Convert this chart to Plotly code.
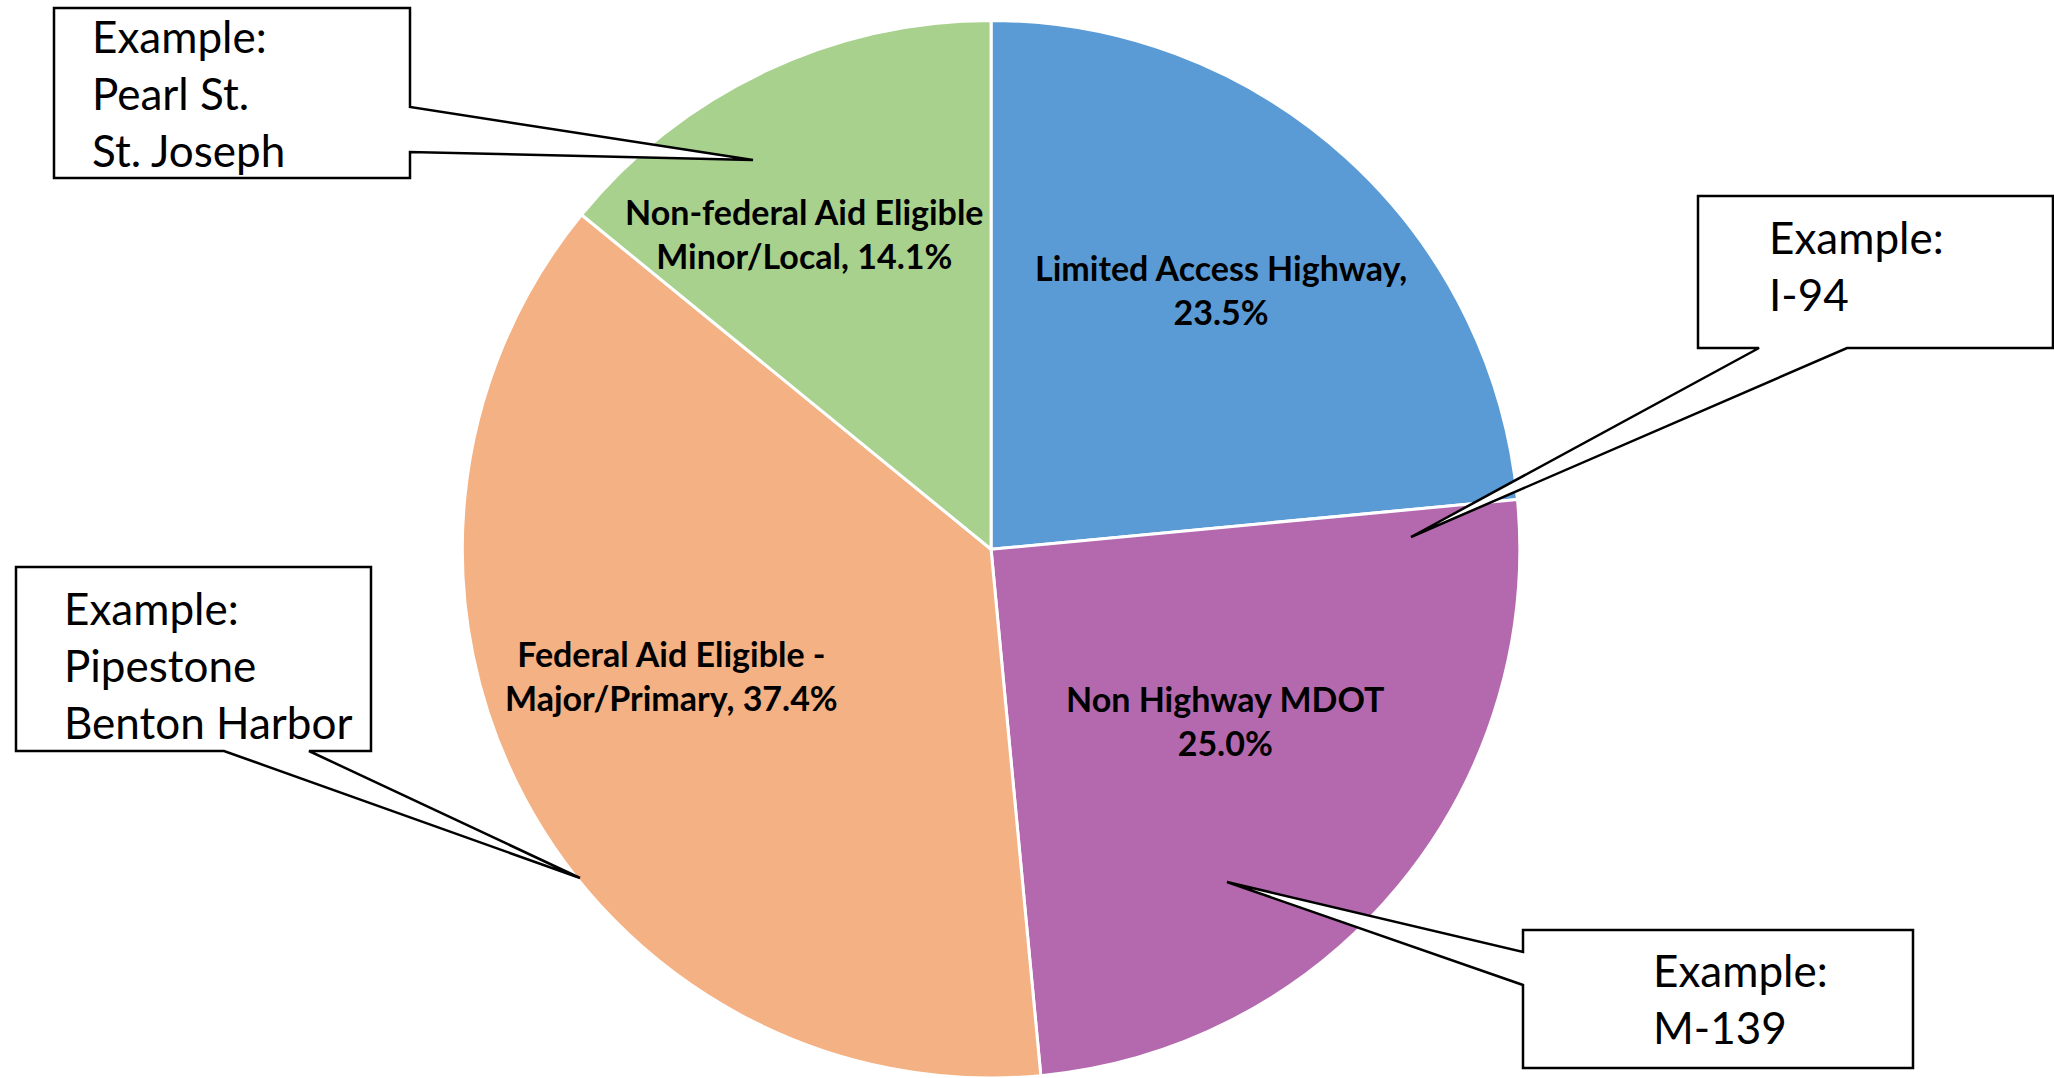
import plotly.graph_objects as go

categories = ["Limited Access Highway", "Non Highway MDOT",
              "Federal Aid Eligible - Major/Primary", "Non-federal Aid Eligible Minor/Local"]
values = [23.5, 25.0, 37.4, 14.1]
label_lines = [
    ("Limited Access Highway,", ""),
    ("Non Highway MDOT", ""),
    ("Federal Aid Eligible -", "Major/Primary, "),
    ("Non-federal Aid Eligible", "Minor/Local, "),
]
colors = ["#5B9BD5", "#B469AF", "#F4B183", "#A9D18E"]

callout_texts = [
    "Example:<br>Pearl St.<br>St. Joseph",
    "Example:<br>I-94",
    "Example:<br>Pipestone<br>Benton Harbor",
    "Example:<br>M-139",
]

W, H = 2054, 1078
LABEL_FONT = "Lato, Open Sans, sans-serif"
CALLOUT_FONT = "Lato, Open Sans, sans-serif"

fig = go.Figure(go.Pie(
    labels=categories, values=values,
    textinfo="none",
    sort=False, direction="clockwise", rotation=0,
    marker=dict(colors=colors, line=dict(color="white", width=3)),
    domain=dict(x=[0.2245, 0.7405], y=[0.0, 0.981]),
    showlegend=False, hoverinfo="label+percent",
))

def px(x, y):
    return x / W, 1 - y / H

# data-label placement (pixel positions of label centres)
label_pos = [(1221, 289), (1225, 720), (671, 675), (804, 233)]

# callout outlines (pixel coords): box with wedge pointer
callouts = [
    dict(path=[(54, 8), (410, 8), (410, 107), (753, 160), (410, 152), (410, 178), (54, 178)],
         text_xy=(90, 93)),
    dict(path=[(1698, 196), (2053, 196), (2053, 348), (1847, 348), (1411, 537), (1759, 348), (1698, 348)],
         text_xy=(1767, 265)),
    dict(path=[(16, 567), (371, 567), (371, 751), (309, 751), (580, 878), (224, 751), (16, 751)],
         text_xy=(62, 665)),
    dict(path=[(1523, 930), (1913, 930), (1913, 1068), (1523, 1068), (1523, 985), (1227, 882), (1523, 952)],
         text_xy=(1651, 998)),
]

shapes = []
annotations = []

for (l1, l2), v, (lx, ly) in zip(label_lines, values, label_pos):
    text = f"{l1}<br>{l2}{v:.1f}%"
    x, y = px(lx, ly)
    annotations.append(dict(xref="paper", yref="paper", x=x, y=y, text=text,
                            showarrow=False, xanchor="center", yanchor="middle", align="center",
                            font=dict(family=LABEL_FONT, size=34, color="black", weight="bold")))

for c, t in zip(callouts, callout_texts):
    pts = [px(x, y) for x, y in c["path"]]
    d = "M " + " L ".join(f"{x:.5f},{y:.5f}" for x, y in pts) + " Z"
    shapes.append(dict(type="path", xref="paper", yref="paper", path=d,
                       fillcolor="white", line=dict(color="black", width=2.5)))
    tx, ty = px(*c["text_xy"])
    annotations.append(dict(xref="paper", yref="paper", x=tx, y=ty, text=t,
                            showarrow=False, xanchor="left", yanchor="middle", align="left",
                            font=dict(family=CALLOUT_FONT, size=44, color="black")))

fig.update_layout(
    width=W, height=H, margin=dict(l=0, r=0, t=0, b=0),
    paper_bgcolor="white", plot_bgcolor="white",
    shapes=shapes, annotations=annotations,
)

fig.write_html("out.html", config={"displayModeBar": False},
               post_script="document.body.style.margin='0';document.body.style.padding='0';")
